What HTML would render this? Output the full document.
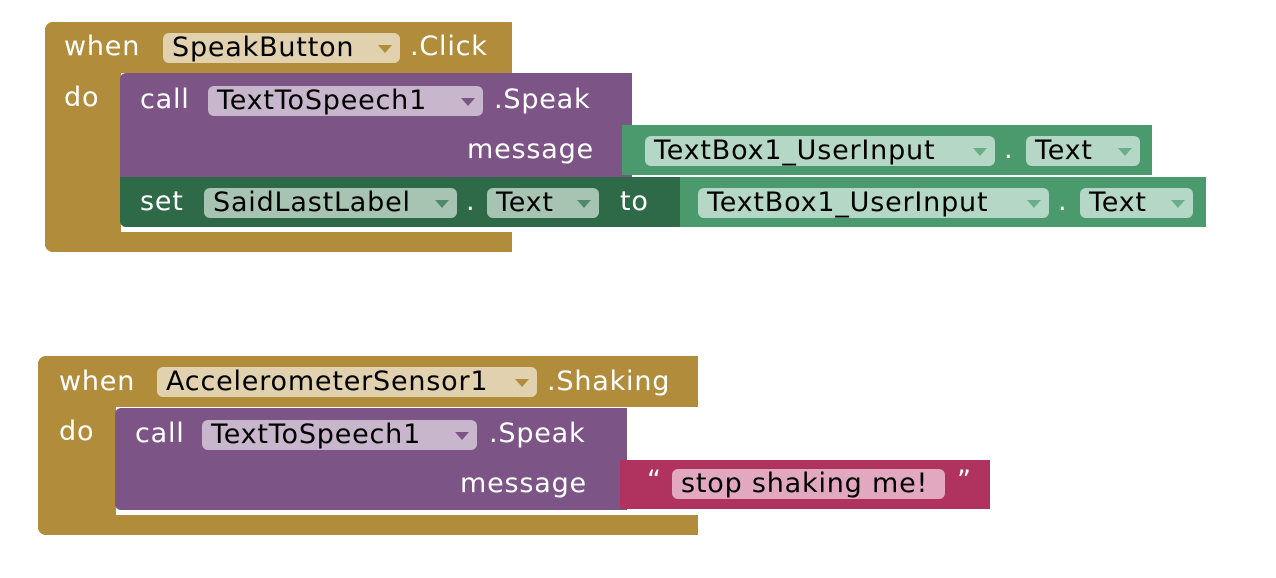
<!DOCTYPE html>
<html><head><meta charset="utf-8"><style>
body{margin:0;width:1276px;height:578px;background:#fff;position:relative;overflow:hidden;font-family:"DejaVu Sans","Liberation Sans",sans-serif;}
div{position:absolute;box-sizing:border-box}
.g{background:#B08C3B}
.p{background:#7C5485}
.ds{background:#2E6A48}
.gr{background:#4A9A6E}
.pk{background:#B0325F}
.t{font-size:27px;letter-spacing:0.8px;line-height:30px;height:30px;color:#fff;white-space:nowrap}
.f{border-radius:6px;height:30px;font-size:27px;letter-spacing:0.8px;line-height:30px;color:#000;padding-left:9px;white-space:nowrap}
.f i{position:absolute;right:8px;top:12px;width:0;height:0;border-left:7px solid transparent;border-right:7px solid transparent;border-top:8px solid}
.fg{background:#E1D1AE}.fg i{border-top-color:#B08C3B}
.fp{background:#C8B6CC}.fp i{border-top-color:#7C5485}
.fd{background:#A7C4B3}.fd i{border-top-color:#4F8A68}
.fl{background:#B4D8C5}.fl i{border-top-color:#6AAE89}
.fk{background:#E1A8C0}
</style></head><body>
<!-- Block 1 -->
<div class="g" style="left:45px;top:22px;width:467px;height:51px;border-radius:8px 0 0 0"></div>
<div class="g" style="left:45px;top:22px;width:76px;height:230px;border-radius:8px 0 0 8px"></div>
<div class="g" style="left:45px;top:232px;width:467px;height:20px;border-radius:0 0 0 8px"></div>
<div class="t" style="left:64px;top:32px">when</div>
<div class="f fg" style="left:163px;top:33px;width:237px">SpeakButton<i></i></div>
<div class="t" style="left:410px;top:32px">.Click</div>
<div class="t" style="left:64px;top:83px">do</div>

<div class="p" style="left:120px;top:73px;width:512px;height:105px;border-radius:6px 0 0 0"></div>
<div class="t" style="left:140px;top:85px">call</div>
<div class="f fp" style="left:208px;top:86px;width:275px">TextToSpeech1<i></i></div>
<div class="t" style="left:494px;top:85px">.Speak</div>
<div class="t" style="left:467px;top:135px">message</div>

<div class="gr" style="left:622px;top:125px;width:530px;height:50px"></div>
<div class="f fl" style="left:645px;top:136px;width:350px">TextBox1_UserInput<i></i></div>
<div class="t" style="left:1004px;top:135px">.</div>
<div class="f fl" style="left:1026px;top:136px;width:114px">Text<i></i></div>

<div class="ds" style="left:120px;top:177px;width:568px;height:50px;border-radius:0 0 0 6px"></div>
<div class="t" style="left:140px;top:187px">set</div>
<div class="f fd" style="left:204px;top:188px;width:253px">SaidLastLabel<i></i></div>
<div class="t" style="left:466px;top:187px">.</div>
<div class="f fd" style="left:487px;top:188px;width:112px">Text<i></i></div>
<div class="t" style="left:620px;top:187px">to</div>

<div class="gr" style="left:680px;top:177px;width:526px;height:50px"></div>
<div class="f fl" style="left:698px;top:188px;width:351px">TextBox1_UserInput<i></i></div>
<div class="t" style="left:1058px;top:187px">.</div>
<div class="f fl" style="left:1080px;top:188px;width:113px">Text<i></i></div>

<!-- Block 2 -->
<div class="g" style="left:38px;top:356px;width:660px;height:51px;border-radius:8px 0 0 0"></div>
<div class="g" style="left:38px;top:356px;width:78px;height:179px;border-radius:8px 0 0 8px"></div>
<div class="g" style="left:38px;top:515px;width:660px;height:20px;border-radius:0 0 0 8px"></div>
<div class="t" style="left:59px;top:367px">when</div>
<div class="f fg" style="left:157px;top:367px;width:380px">AccelerometerSensor1<i></i></div>
<div class="t" style="left:547px;top:367px">.Shaking</div>
<div class="t" style="left:59px;top:417px">do</div>

<div class="p" style="left:115px;top:408px;width:512px;height:102px;border-radius:6px 0 0 6px"></div>
<div class="t" style="left:135px;top:419px">call</div>
<div class="f fp" style="left:202px;top:420px;width:275px">TextToSpeech1<i></i></div>
<div class="t" style="left:489px;top:419px">.Speak</div>
<div class="t" style="left:460px;top:469px">message</div>

<div class="pk" style="left:620px;top:460px;width:370px;height:49px"></div>
<div class="t" style="left:647px;top:466px">“</div>
<div class="f fk" style="left:672px;top:469px;width:273px">stop shaking me!</div>
<div class="t" style="left:957px;top:466px">”</div>
</body></html>
